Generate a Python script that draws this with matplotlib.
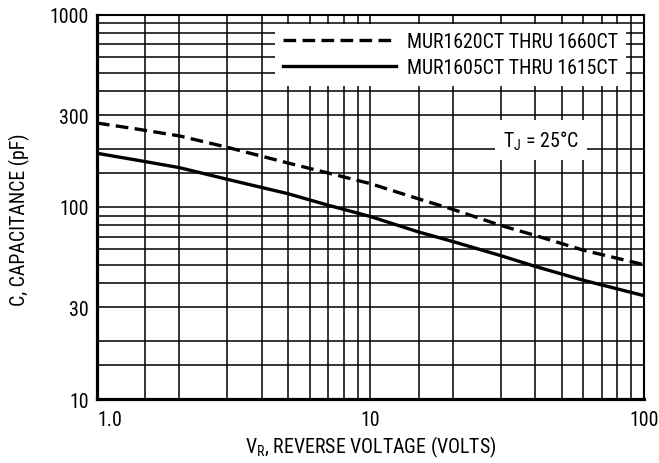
import numpy as np
import matplotlib
matplotlib.use('Agg')
import matplotlib.pyplot as plt
from matplotlib.ticker import FixedLocator, NullFormatter

plt.rcParams['font.family'] = ['Roboto Condensed', 'Liberation Sans', 'DejaVu Sans']

# reverse voltage (V) and capacitance (pF)
voltage = [1.0, 1.4, 2.0, 3.0, 5.0, 7.0, 10.0, 15.0, 20.0, 30.0, 40.0, 60.0, 100.0]
cap_1620_1660 = [273, 254, 234, 204, 169, 150, 132, 110, 97, 80, 71, 59.5, 50]
cap_1605_1615 = [190, 175, 160, 139, 117, 102, 89, 74, 66, 55.7, 49, 41.5, 34.5]

labels = ['MUR1620CT THRU 1660CT', 'MUR1605CT THRU 1615CT']
x_ticks = [1, 10, 100]
x_ticklabels = ['1.0', '10', '100']
y_ticks = [10, 30, 100, 300, 1000]
y_ticklabels = ['10', '30', '100', '300', '1000']
minor_mult = [1, 1.5, 2, 3, 4, 5, 6, 7, 8, 9]

FS = 14.3

fig = plt.figure(figsize=(6.59, 4.64), dpi=100)
ax = fig.add_axes([0.1472, 0.1379, 0.83, 0.8283])

ax.plot(voltage, cap_1620_1660, color='black', lw=2.4, dashes=(3.8, 1.9),
        label=labels[0], solid_capstyle='butt', dash_capstyle='butt')
ax.plot(voltage, cap_1605_1615, color='black', lw=2.4, label=labels[1])

ax.set_xscale('log')
ax.set_yscale('log')
ax.set_xlim(1, 100)
ax.set_ylim(10, 1000)

grid_x = [m * d for d in [1, 10] for m in minor_mult]
grid_y = [m * d for d in [10, 100] for m in minor_mult]
ax.xaxis.set_minor_locator(FixedLocator(grid_x))
ax.yaxis.set_minor_locator(FixedLocator(grid_y))
ax.xaxis.set_minor_formatter(NullFormatter())
ax.yaxis.set_minor_formatter(NullFormatter())
ax.set_xticks(x_ticks)
ax.set_xticklabels(x_ticklabels)
ax.set_yticks(y_ticks)
ax.set_yticklabels(y_ticklabels)
ax.grid(True, which='both', color='black', lw=1.1)
ax.tick_params(which='both', length=0, labelsize=FS)
ax.tick_params(axis='x', pad=8)
ax.tick_params(axis='y', pad=6)
ax.get_xticklabels()[0].set_horizontalalignment('left')

for s in ax.spines.values():
    s.set_linewidth(1.5)
ax.spines['left'].set_linewidth(2.3)
ax.spines['bottom'].set_linewidth(2.3)

ax.set_xlabel('V$_\\mathregular{R}$, REVERSE VOLTAGE (VOLTS)', fontsize=FS, labelpad=3)
ax.set_ylabel('C, CAPACITANCE (pF)', fontsize=FS)
ax.yaxis.set_label_coords(-0.122, 0.47)

leg = ax.legend(loc='upper right', bbox_to_anchor=(0.968, 0.977), fontsize=FS,
                handlelength=5.7, handletextpad=0.55, borderaxespad=0,
                borderpad=0.42, labelspacing=0.38, fancybox=False,
                framealpha=1, edgecolor='none', facecolor='white')

ax.text(0.812, 0.674, 'T$_\\mathregular{J}$ = 25°C', transform=ax.transAxes,
        fontsize=FS, ha='center', va='center',
        bbox=dict(facecolor='white', edgecolor='none', pad=6))

fig.savefig('out.png', dpi=100)
